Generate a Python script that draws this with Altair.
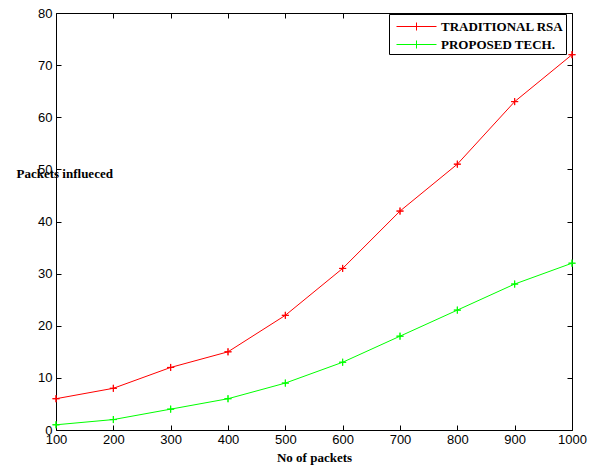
import altair as alt
import pandas as pd

packets = [100, 200, 300, 400, 500, 600, 700, 800, 900, 1000]
traditional_rsa = [6, 8, 12, 15, 22, 31, 42, 51, 63, 72]
proposed_tech = [1, 2, 4, 6, 9, 13, 18, 23, 28, 32]
series_names = ["TRADITIONAL RSA", "PROPOSED TECH."]
series_colors = ["#ff0000", "#00ff00"]
y_ticks = [0, 10, 20, 30, 40, 50, 60, 70, 80]

df = pd.DataFrame({
    "packets": packets * 2,
    "value": traditional_rsa + proposed_tech,
    "series": [series_names[0]] * len(packets) + [series_names[1]] * len(packets),
})

xscale = alt.Scale(domain=[100, 1000], nice=False, zero=False)
yscale = alt.Scale(domain=[0, 80], nice=False)

legend = alt.Legend(
    title=None, orient="none", legendX=333, legendY=1,
    strokeColor="black", fillColor="white", padding=2, rowPadding=-2,
    symbolType="M-2,0H2M0,-0.4V0.4", symbolSize=400, symbolStrokeWidth=1,
    symbolFillColor="transparent", symbolOffset=15,
    labelFont="Liberation Serif", labelFontSize=13, labelFontWeight="bold",
    labelColor="black", labelOffset=14, labelLimit=300,
)
color = alt.Color("series:N", scale=alt.Scale(domain=series_names, range=series_colors),
                  legend=legend, sort=series_names)

x_main = alt.X("packets:Q", scale=xscale, axis=alt.Axis(
    values=packets, format="d", title="No of packets", ticks=False, domain=False, grid=False,
    labelFontSize=13, labelFont="Liberation Sans", labelColor="black", labelPadding=3,
    labelFlush=False, labelOverlap=False,
    titleFont="Liberation Serif", titleFontSize=13, titleFontWeight="bold",
    titleColor="black", titlePadding=5))
y_main = alt.Y("value:Q", scale=yscale, axis=alt.Axis(
    values=y_ticks, format="d", title="Packets influeced", ticks=False, domain=False, grid=False,
    labelFontSize=13, labelFont="Liberation Sans", labelColor="black", labelPadding=4,
    labelFlush=False, labelOverlap=False,
    titleAngle=0, titleAlign="left", titleBaseline="middle", titleX=-40, titleY=160,
    titleFont="Liberation Serif", titleFontSize=13, titleFontWeight="bold",
    titleColor="black"))


def tick_axis(orient, vals):
    return alt.Axis(orient=orient, offset=-5, tickSize=5, tickColor="black", tickWidth=1,
                    labels=False, domain=False, grid=False, title=None, values=vals)


lines = alt.Chart(df).mark_line(strokeWidth=1).encode(x=x_main, y=y_main, color=color)

plus = "M-1,0H1M0,-1V1"
points_a = alt.Chart(df).mark_point(shape=plus, filled=False, size=49, strokeWidth=1, opacity=1).encode(
    x=alt.X("packets:Q", scale=xscale, axis=tick_axis("bottom", packets)),
    y=alt.Y("value:Q", scale=yscale, axis=tick_axis("left", y_ticks)),
    color=color)
points_b = alt.Chart(df).mark_point(shape=plus, filled=False, size=49, strokeWidth=1, opacity=1).encode(
    x=alt.X("packets:Q", scale=xscale, axis=tick_axis("top", packets)),
    y=alt.Y("value:Q", scale=yscale, axis=tick_axis("right", y_ticks)),
    color=color)

chart = alt.layer(lines, points_a, points_b).resolve_axis(
    x="independent", y="independent"
).properties(
    width=516, height=417,
    autosize=alt.AutoSizeParams(type="none"),
    padding={"left": 48, "top": 5, "right": 17, "bottom": 35},
    background="white",
).configure_view(stroke="black", strokeWidth=1)

chart.save("out.html", embed_options={"renderer": "svg", "actions": False})
